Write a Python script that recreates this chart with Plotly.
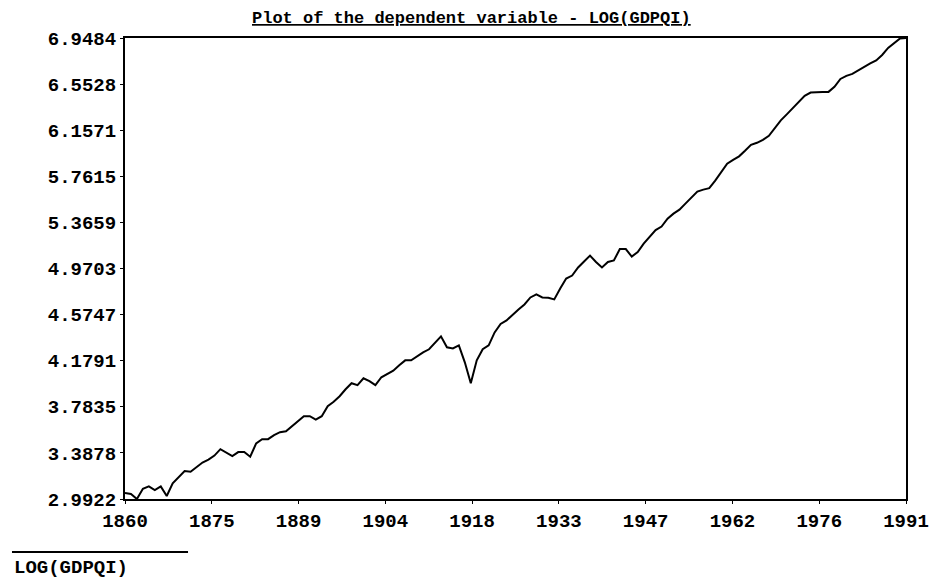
import plotly.graph_objects as go

years = list(range(1860, 1992))
log_gdpqi = [
    3.043, 3.035, 2.9922, 3.080, 3.100, 3.069, 3.100, 3.018, 3.126, 3.183,  # 1860-1869
    3.232, 3.226, 3.265, 3.305, 3.330, 3.365, 3.420, 3.390, 3.360, 3.395,  # 1870-1879
    3.395, 3.355, 3.470, 3.506, 3.506, 3.540, 3.566, 3.574, 3.617, 3.652,  # 1880-1889
    3.703, 3.703, 3.673, 3.703, 3.789, 3.827, 3.874, 3.934, 3.986, 3.969,  # 1890-1899
    4.028, 4.003, 3.969, 4.037, 4.063, 4.093, 4.140, 4.182, 4.182, 4.217,  # 1900-1909
    4.251, 4.277, 4.337, 4.388, 4.294, 4.285, 4.311, 4.165, 3.986, 4.182,  # 1910-1919
    4.277, 4.311, 4.422, 4.495, 4.525, 4.576, 4.619, 4.662, 4.722, 4.748,  # 1920-1929
    4.722, 4.719, 4.705, 4.799, 4.884, 4.910, 4.979, 5.030, 5.081, 5.026,  # 1930-1939
    4.979, 5.026, 5.039, 5.137, 5.137, 5.073, 5.112, 5.184, 5.244, 5.300,  # 1940-1949
    5.330, 5.398, 5.441, 5.475, 5.527, 5.581, 5.630, 5.647, 5.660, 5.724,  # 1950-1959
    5.801, 5.869, 5.903, 5.933, 5.981, 6.032, 6.049, 6.075, 6.109, 6.178,  # 1960-1969
    6.242, 6.293, 6.345, 6.405, 6.452, 6.480, 6.486, 6.486, 6.486, 6.529,  # 1970-1979
    6.597, 6.623, 6.640, 6.670, 6.704, 6.730, 6.756, 6.803, 6.863, 6.905,  # 1980-1989
    6.945, 6.9484,                                                          # 1990-1991
]

x_tick_labels = ["1860", "1875", "1889", "1904", "1918", "1933", "1947", "1962", "1976", "1991"]
y_tick_labels = ["2.9922", "3.3878", "3.7835", "4.1791", "4.5747", "4.9703",
                 "5.3659", "5.7615", "6.1571", "6.5528", "6.9484"]

title_text = "Plot of the dependent variable - LOG(GDPQI)"
series_name = "LOG(GDPQI)"

FONT = "Liberation Mono"

x_min, x_max = years[0], years[-1]
n = len(x_tick_labels)
x_tick_vals = [x_min + i * (x_max - x_min) / (n - 1) for i in range(n)]
y_min, y_max = float(y_tick_labels[0]), float(y_tick_labels[-1])
m = len(y_tick_labels)
y_tick_vals = [y_min + i * (y_max - y_min) / (m - 1) for i in range(m)]

fig = go.Figure()
fig.add_trace(go.Scatter(
    x=years, y=log_gdpqi, mode="lines", name=series_name,
    line=dict(color="black", width=2), showlegend=False,
))

axis_common = dict(
    showgrid=False, zeroline=False, showline=True, linecolor="black",
    linewidth=2, mirror=True, ticks="outside", tickcolor="black",
    tickwidth=1, ticklen=3,
    tickfont=dict(family=FONT, size=19, color="black", weight="bold"),
)

# page body adds an 8px margin, so the figure is 8px smaller than the window
fig.update_layout(
    width=935, height=576,
    margin=dict(l=117, r=37, t=30, b=85),
    paper_bgcolor="white", plot_bgcolor="white",
    xaxis=dict(range=[x_min, x_max], tickvals=x_tick_vals, ticktext=x_tick_labels,
               ticklabelstandoff=0, **axis_common),
    yaxis=dict(range=[y_min, y_max], tickvals=y_tick_vals, ticktext=y_tick_labels,
               ticklabelstandoff=0, **axis_common),
    annotations=[
        dict(text=title_text, xref="paper", yref="paper", x=0.444, y=1.043,
             xanchor="center", yanchor="middle", showarrow=False,
             font=dict(family=FONT, size=17, color="black", weight="bold",
                       lineposition="under")),
        dict(text=series_name, xref="paper", yref="paper", x=-0.1447, y=-0.1497,
             xanchor="left", yanchor="middle", showarrow=False,
             font=dict(family=FONT, size=19, color="black", weight="bold")),
    ],
    shapes=[
        dict(type="line", xref="paper", yref="paper", x0=-0.1447, x1=0.0807,
             y0=-0.115, y1=-0.115, line=dict(color="black", width=2)),
    ],
)

fig.write_html("out.html")
